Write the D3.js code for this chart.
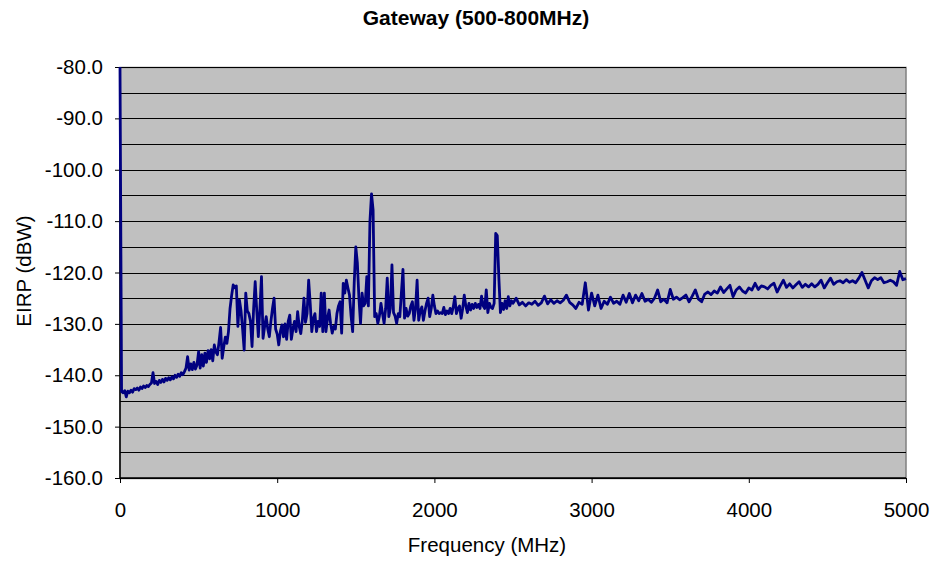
<!DOCTYPE html>
<html>
<head>
<meta charset="utf-8">
<script src="https://cdn.jsdelivr.net/npm/d3@7"></script>
<style>
  body { margin: 0; background: #fff; }
  text { font-family: "Liberation Sans", Arial, sans-serif; }
</style>
</head>
<body>
<svg id="chart" width="934" height="563"></svg>
<script>
// frequency steps: 10 MHz up to 2500, 20 MHz above
var freqLow = d3.range(0, 2501, 10);
var freqHigh = d3.range(2520, 5001, 20);

var eirpLow = [
    -80, -143.2, -143.4, -143.0, -144.2, -143.1, -143.4, -142.9, -143.3, -142.6,
    -142.8, -142.5, -142.9, -142.3, -142.6, -142.1, -142.4, -142.0, -142.2, -141.8,
    -141.5, -139.5, -141.6, -141.2, -141.8, -141.0, -141.4, -140.8, -141.3, -140.6,
    -141.0, -140.5, -140.9, -140.3, -140.7, -140.0, -140.4, -139.8, -140.2, -139.5,
    -139.9, -139.3, -138.6, -136.4, -139.0, -137.8, -138.9, -137.5, -138.8, -138.0,
    -135.4, -138.6, -136.0, -138.2, -135.7, -137.5, -135.2, -136.8, -135.0, -137.2,
    -134.1, -135.5, -136.0, -133.5, -130.7, -136.7, -134.5, -132.6, -133.8, -131.5,
    -127.0, -124.5, -122.4, -123.0, -122.6, -130.5, -125.4, -127.5, -131.0, -135.1,
    -124.0, -127.5, -128.0, -129.5, -134.4, -127.0, -121.8, -127.5, -132.5, -127.0,
    -120.8, -132.8, -130.5, -128.6, -131.0, -132.5, -129.5, -127.0, -125.0, -131.0,
    -132.0, -134.1, -131.5, -130.2, -132.5, -130.0, -133.0, -129.5, -128.3, -133.0,
    -131.0, -129.5, -131.5, -127.6, -130.5, -131.9, -129.3, -125.0, -129.7, -128.0,
    -121.5, -126.0, -131.5, -129.0, -128.0, -131.5, -129.5, -130.5, -124.0, -131.5,
    -124.0, -131.5, -129.0, -127.3, -130.0, -131.8, -130.5, -131.0, -128.0, -126.5,
    -125.7, -131.8, -122.1, -124.0, -121.5, -123.0, -124.4, -128.5, -131.5, -122.0,
    -115.0, -118.2, -125.0, -129.9, -124.0, -126.5, -126.0, -120.8, -126.5, -110.0,
    -104.7, -107.8, -128.6, -128.0, -129.9, -128.5, -126.0, -128.0, -129.9, -127.0,
    -121.1, -128.6, -127.0, -118.5, -127.8, -128.5, -129.9, -128.0, -128.6, -124.0,
    -119.4, -128.9, -127.0, -128.5, -128.0, -126.5, -125.7, -129.3, -127.0, -121.5,
    -129.3, -127.5, -126.7, -129.3, -127.5, -126.0, -125.0, -128.6, -127.0, -124.4,
    -126.5, -128.0, -127.5, -128.0, -127.8, -128.0, -126.8, -128.2, -127.5, -128.0,
    -127.0, -128.0, -126.7, -124.7, -128.0, -127.0, -126.5, -128.9, -127.0, -124.4,
    -126.5, -127.8, -126.0, -127.3, -126.2, -127.0, -126.0, -126.8, -126.2, -127.0,
    -124.6, -126.5, -127.0, -123.4, -127.8, -126.0, -126.8, -127.0, -126.0, -112.4,
    -112.8, -121.0, -127.8, -126.0, -127.2, -125.5, -127.0, -124.7, -126.5, -125.5,
    -126.0
];

var eirpHigh = [
    -125.0, -126.3, -125.8, -126.5, -125.9, -126.2, -125.6, -126.4, -125.9, -124.6,
    -126.1, -125.3, -126.0, -125.5, -125.9, -125.4, -124.4, -125.8, -126.3, -127.0,
    -125.8, -126.2, -122.0, -127.3, -124.0, -126.5, -124.4, -127.0, -125.6, -126.2,
    -124.8, -126.0, -125.6, -126.2, -124.4, -125.8, -124.1, -125.9, -124.4, -125.5,
    -124.1, -125.6, -125.2, -125.8, -125.0, -123.4, -125.7, -125.2, -125.9, -123.3,
    -125.2, -124.8, -125.3, -124.9, -124.4, -125.7, -124.6, -123.4, -125.2, -125.7,
    -124.2, -123.8, -124.3, -123.6, -124.0, -122.8, -123.9, -123.2, -122.5, -124.7,
    -123.4, -122.8, -123.6, -124.0, -123.0, -123.4, -122.1, -123.3, -122.6, -122.8,
    -123.2, -122.5, -122.1, -123.8, -122.6, -121.5, -122.9, -122.2, -123.0, -122.4,
    -121.8, -122.9, -122.3, -122.8, -122.2, -122.8, -122.3, -121.5, -123.0, -122.0,
    -121.1, -122.3, -121.8, -121.6, -122.0, -121.4, -121.9, -121.6, -122.0, -121.1,
    -120.0, -121.5, -123.0, -121.6, -121.0, -121.4, -121.0, -122.0, -121.8, -121.5,
    -121.8, -122.5, -119.8, -121.4, -121.2
];

var xTicks = [0, 1000, 2000, 3000, 4000, 5000];
var yTicks = [-80, -90, -100, -110, -120, -130, -140, -150, -160];
var yGrid = d3.range(-160, -79, 5);

var points = [];
freqLow.forEach(function (f, i) { points.push({ f: f, v: eirpLow[i] }); });
freqHigh.forEach(function (f, i) { points.push({ f: f, v: eirpHigh[i] }); });

var svg = d3.select("#chart");
var plotLeft = 120, plotRight = 906, plotTop = 67, plotBottom = 478;

var x = d3.scaleLinear().domain([0, 5000]).range([plotLeft, plotRight]);
var y = d3.scaleLinear().domain([-160, -80]).range([plotBottom, plotTop]);

// plot area
svg.append("rect")
    .attr("x", plotLeft).attr("y", plotTop + 0.5)
    .attr("width", plotRight - plotLeft).attr("height", plotBottom - plotTop)
    .attr("fill", "#c0c0c0")
    .attr("stroke", "#808080").attr("stroke-width", 1.5);

svg.append("g")
    .selectAll("line")
    .data(yGrid).enter()
    .append("line")
    .attr("x1", plotLeft).attr("x2", plotRight)
    .attr("y1", function (d) { return Math.round(y(d)) + 0.5; })
    .attr("y2", function (d) { return Math.round(y(d)) + 0.5; })
    .attr("stroke", "#000").attr("stroke-width", 1);

// axes
var yAxis = svg.append("g")
    .attr("transform", "translate(" + plotLeft + ",0)")
    .call(d3.axisLeft(y).tickValues(yTicks).tickSize(5).tickPadding(12)
        .tickFormat(function (d) { return d3.format(".1f")(d).replace("\u2212", "-"); }));

var xAxis = svg.append("g")
    .attr("transform", "translate(0," + plotBottom + ")")
    .call(d3.axisBottom(x).tickValues(xTicks).tickSize(5).tickPadding(19)
        .tickFormat(d3.format("d")));

[xAxis, yAxis].forEach(function (a) {
    a.select(".domain").attr("stroke", "#000").attr("stroke-width", 1.5);
    a.selectAll(".tick line").attr("stroke", "#000");
    a.selectAll("text").attr("fill", "#000")
        .style("font-family", "'Liberation Sans', Arial, sans-serif")
        .style("font-size", "20.5px");
});
xAxis.select(".domain").attr("d", "M" + plotLeft + ",0H" + plotRight);
yAxis.select(".domain").attr("d", "M0," + plotTop + "V" + plotBottom);

// trace
var line = d3.line()
    .x(function (d) { return x(d.f); })
    .y(function (d) { return y(d.v); });

svg.append("path")
    .datum(points)
    .attr("d", line)
    .attr("fill", "none")
    .attr("stroke", "#000080")
    .attr("stroke-width", 2.8)
    .attr("stroke-linejoin", "round");

// titles
svg.append("text")
    .attr("x", 476).attr("y", 25)
    .attr("text-anchor", "middle")
    .style("font-size", "21px").style("font-weight", "bold")
    .text("Gateway (500-800MHz)");

svg.append("text")
    .attr("x", 487).attr("y", 552)
    .attr("text-anchor", "middle")
    .style("font-size", "20.5px")
    .text("Frequency (MHz)");

svg.append("text")
    .attr("transform", "translate(31,271) rotate(-90)")
    .attr("text-anchor", "middle")
    .style("font-size", "20.5px")
    .text("EIRP (dBW)");
</script>
</body>
</html>
